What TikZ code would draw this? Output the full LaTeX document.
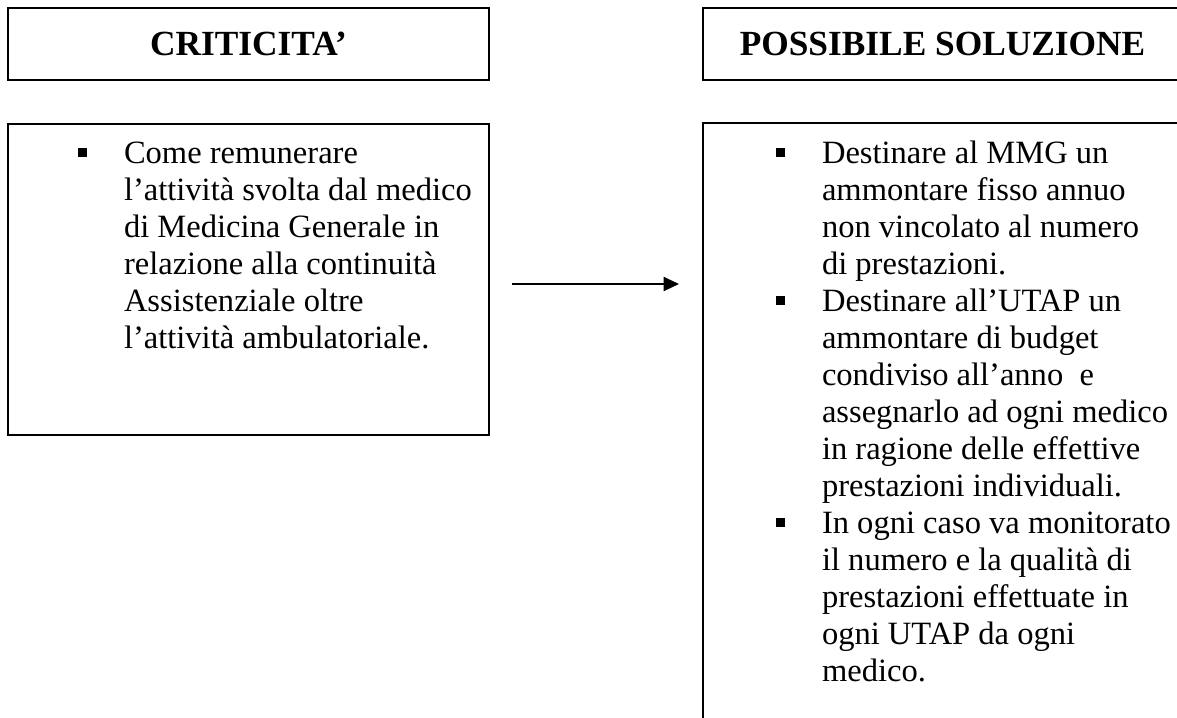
\documentclass[tikz,border=0pt]{standalone}
\usepackage{fontspec}
\setmainfont{Liberation Serif}
\usetikzlibrary{arrows.meta}
\begin{document}
\begin{tikzpicture}[x=0.75pt,y=-0.75pt,
  box/.style={draw,line width=1.4pt,inner sep=0pt,outer sep=0pt},
  head/.style={box,font=\bfseries\fontsize{26.5}{30}\selectfont,minimum height=54pt},
  txt/.style={anchor=base west,inner sep=0pt,outer sep=0pt,font=\fontsize{24.4}{28}\selectfont},
  sq/.style={fill,inner sep=0pt,minimum size=6.6pt},
  conn/.style={line width=1.5pt,-{Triangle[length=11.5pt,width=10.5pt]}}
]
\useasboundingbox (0,0) rectangle (1177,717);
\clip (0,0) rectangle (1177,717);
% headers
\node[head,minimum width=360.75pt] (hL) at (248.5,44) {CRITICITA’};
\node[head,minimum width=359.25pt] (hR) at (942.5,44) {POSSIBILE SOLUZIONE};
% content boxes
\node[box,minimum width=360.75pt,minimum height=233.25pt] (cL) at (248.5,279.5) {};
\node[box,minimum width=359.25pt,minimum height=492.75pt] (cR) at (942.5,451.5) {};
% left text
\node[sq] (bl1) at (82.5,152.5) {};
\foreach \t [count=\i] in {Come remunerare,
  l’attività svolta dal medico,
  di Medicina Generale in,
  relazione alla continuità,
  Assistenziale oltre,
  l’attività ambulatoriale.}
  \node[txt] (l\i) at (124,{163+(\i-1)*37}) {\ignorespaces\t};
% right text
\node[sq] (br1) at (780.5,152.5) {};
\node[sq] (br2) at (780.5,{152.5+4*37}) {};
\node[sq] (br3) at (780.5,{152.5+10*37}) {};
\foreach \t [count=\i] in {Destinare al MMG un,
  ammontare fisso annuo,
  non vincolato al numero,
  di prestazioni.,
  Destinare all’UTAP un,
  ammontare di budget,
  condiviso all’anno\ \ e,
  assegnarlo ad ogni medico,
  in ragione delle effettive,
  prestazioni individuali.,
  In ogni caso va monitorato,
  il numero e la qualità di,
  prestazioni effettuate in,
  ogni UTAP da ogni,
  medico.}
  \node[txt] (r\i) at (822,{163+(\i-1)*37}) {\ignorespaces\t};
% arrow
\coordinate (a1) at (512,284);
\coordinate (a2) at (679,284);
\draw[conn] (a1) -- (a2);
\end{tikzpicture}
\end{document}
